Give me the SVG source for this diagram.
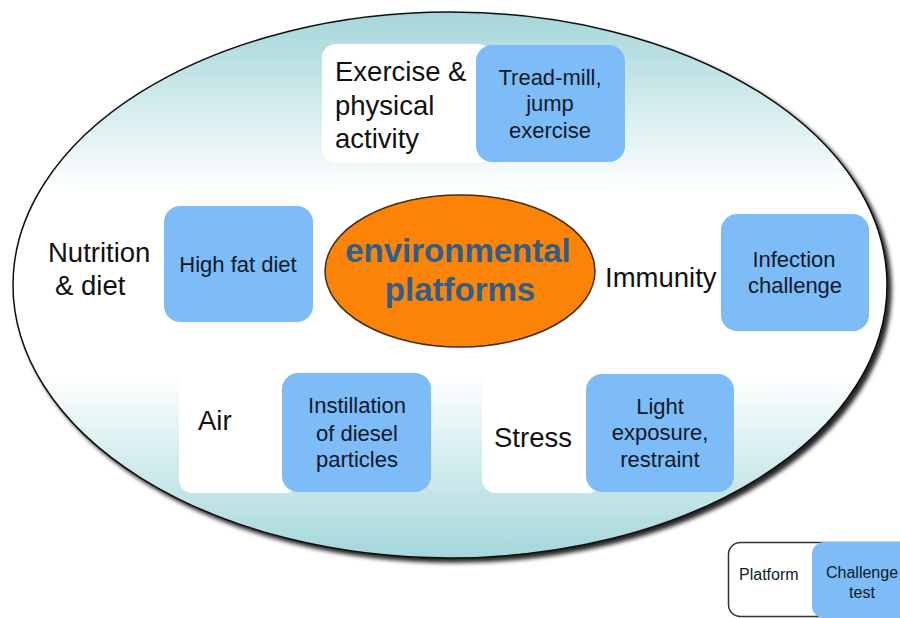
<svg xmlns="http://www.w3.org/2000/svg" width="900" height="618" viewBox="0 0 900 618">
  <defs>
    <linearGradient id="bg" x1="0" y1="0" x2="0" y2="1">
      <stop offset="0" stop-color="#a4d6da"/>
      <stop offset="0.33" stop-color="#ffffff"/>
      <stop offset="0.66" stop-color="#ffffff"/>
      <stop offset="1" stop-color="#a4d7db"/>
    </linearGradient>
    <filter id="shadow" x="-5%" y="-5%" width="115%" height="115%">
      <feDropShadow dx="4" dy="4" stdDeviation="2" flood-color="#000" flood-opacity="0.85"/>
    </filter>
  </defs>
  <style>
    .plat { fill: #ffffff; }
    .chal { fill: #7dbcf6; }
    .pt { font-family: "Liberation Sans", Arial, sans-serif; font-size: 27.5px; fill: #111111; }
    .ct { font-family: "Liberation Sans", Arial, sans-serif; font-size: 22px; fill: #0e1a2b; text-anchor: middle; }
    .lt { font-family: "Liberation Sans", Arial, sans-serif; font-size: 16px; fill: #0e1a2b; }
    .center { font-family: "Liberation Sans", Arial, sans-serif; font-size: 33px; font-weight: bold; fill: #2d5f8e; text-anchor: middle; }
  </style>
  <rect width="900" height="618" fill="#ffffff"/>

  <g id="outer">
    <ellipse cx="450" cy="285" rx="437" ry="273" fill="url(#bg)" stroke="#111111" stroke-width="1.5" filter="url(#shadow)"/>
  </g>

  <g id="connectors"></g>

  <g id="center">
    <ellipse cx="460" cy="271" rx="135" ry="76" fill="#fb8406" stroke="#4a2a10" stroke-width="1.5"/>
    <text class="center" x="458" y="262">environmental</text>
    <text class="center" x="460" y="301">platforms</text>
  </g>

  <g id="exercise">
    <rect class="plat" x="322" y="44" width="170" height="119" rx="14"/>
    <rect class="chal" x="476" y="45" width="149" height="117" rx="16"/>
    <text class="pt" x="335" y="81">Exercise &amp;</text>
    <text class="pt" x="335" y="114.5">physical</text>
    <text class="pt" x="335" y="148">activity</text>
    <text class="ct" x="550" y="85">Tread-mill,</text>
    <text class="ct" x="550" y="111">jump</text>
    <text class="ct" x="550" y="138">exercise</text>
  </g>

  <g id="nutrition">
    <rect class="chal" x="164" y="206" width="149" height="116" rx="16"/>
    <text class="pt" x="48" y="262">Nutrition</text>
    <text class="pt" x="55" y="295">&amp; diet</text>
    <text class="ct" x="238" y="272">High fat diet</text>
  </g>

  <g id="immunity">
    <rect class="chal" x="721" y="214" width="148" height="117" rx="16"/>
    <text class="pt" x="605" y="287">Immunity</text>
    <text class="ct" x="794" y="267">Infection</text>
    <text class="ct" x="795" y="293">challenge</text>
  </g>

  <g id="air">
    <rect class="plat" x="179" y="373" width="120" height="120" rx="14"/>
    <rect class="chal" x="282" y="373" width="149" height="119" rx="16"/>
    <text class="pt" x="198" y="430">Air</text>
    <text class="ct" x="357" y="413">Instillation</text>
    <text class="ct" x="357" y="441">of diesel</text>
    <text class="ct" x="357" y="467">particles</text>
  </g>

  <g id="stress">
    <rect class="plat" x="482" y="374" width="120" height="119" rx="14"/>
    <rect class="chal" x="586" y="374" width="148" height="118" rx="16"/>
    <text class="pt" x="494" y="447">Stress</text>
    <text class="ct" x="660" y="414">Light</text>
    <text class="ct" x="660" y="440">exposure,</text>
    <text class="ct" x="660" y="467">restraint</text>
  </g>

  <g id="legend">
    <rect x="728.5" y="542.5" width="200" height="74" rx="12" fill="#ffffff" stroke="#333333" stroke-width="1.5"/>
    <rect class="chal" x="812" y="542" width="110" height="76" rx="12"/>
    <text class="lt" x="739" y="580">Platform</text>
    <text class="lt" x="862" y="578" text-anchor="middle">Challenge</text>
    <text class="lt" x="862" y="598" text-anchor="middle">test</text>
  </g>
</svg>
